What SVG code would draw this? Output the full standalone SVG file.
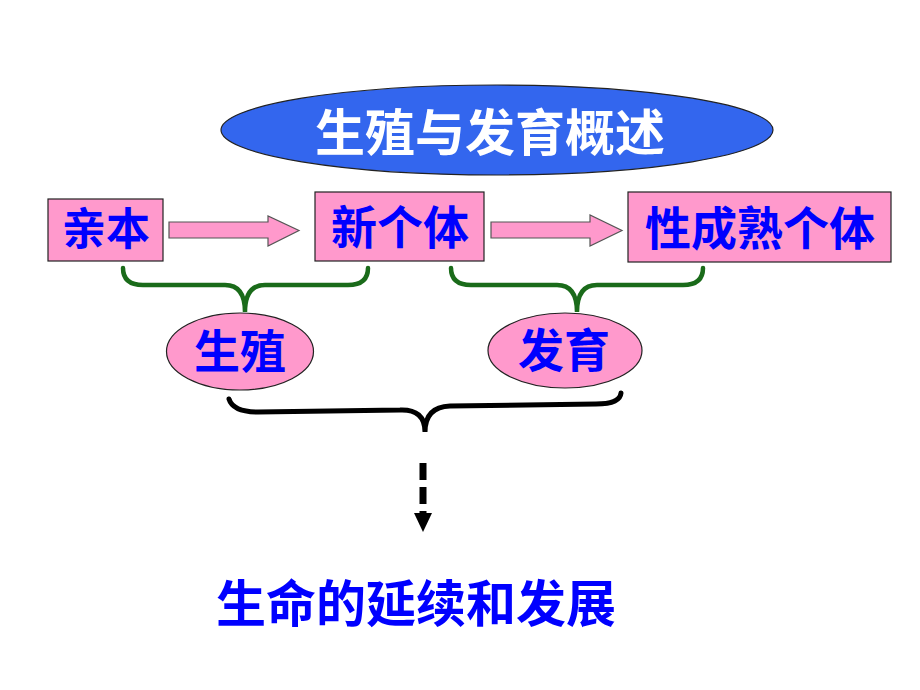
<svg xmlns="http://www.w3.org/2000/svg" width="920" height="690" viewBox="0 0 920 690">
<style>
.t{font-family:"Noto Sans CJK SC","Liberation Sans",sans-serif;font-weight:bold;text-anchor:middle;dominant-baseline:central}
.blue{fill:#0000ff}
.box{fill:#ff99cc;stroke:#222;stroke-width:1.2}
.arr{fill:#ff99cc;stroke:#555;stroke-width:1.2}
.gb{fill:none;stroke:#1a6b1a;stroke-width:4.5;stroke-linecap:round}
.bb{fill:none;stroke:#000;stroke-width:5;stroke-linecap:round}
</style>
<rect width="920" height="690" fill="#fff"/>
<g id="title">
<ellipse cx="497" cy="130" rx="276" ry="45" fill="#3366ee" stroke="#222" stroke-width="1.2"/>
<text class="t" x="490" y="129" font-size="50" fill="#fff">生殖与发育概述</text>
</g>
<g id="qinben">
<rect class="box" x="48" y="199" width="115" height="62"/>
<text class="t blue" x="106" y="226" font-size="44">亲本</text>
</g>
<g id="xingeti">
<rect class="box" x="315" y="192" width="169" height="69"/>
<text class="t blue" x="400" y="224" font-size="46">新个体</text>
</g>
<g id="xingchengshu">
<rect class="box" x="628" y="192" width="263" height="70"/>
<text class="t blue" x="760" y="225" font-size="46">性成熟个体</text>
</g>
<g id="shengzhi">
<ellipse cx="240" cy="351.5" rx="73.5" ry="38.5" fill="#ff99cc" stroke="#222" stroke-width="1.2"/>
<text class="t blue" x="240" y="348" font-size="46">生殖</text>
</g>
<g id="fayu">
<ellipse cx="565" cy="350.5" rx="77" ry="37.5" fill="#ff99cc" stroke="#222" stroke-width="1.2"/>
<text class="t blue" x="564" y="347" font-size="46">发育</text>
</g>
<g id="result">
<text class="t blue" x="416" y="600" font-size="50">生命的延续和发展</text>
</g>
<g id="connectors">
<polygon class="arr" points="169,222 268,222 268,216 299,230.5 268,246 268,238 169,238"/>
<polygon class="arr" points="491,222 590,222 590,215 622,230.5 590,246 590,238 491,238"/>
<path class="gb" d="M123,268 Q123,285 143,285 L225,285 Q245,285 245,312 Q245,285 265,285 L348,285 Q368,285 368,268"/>
<path class="gb" d="M451,268 Q451,285 471,285 L557,285 Q577,285 577,312 Q577,285 597,285 L683,285 Q703,285 703,268"/>
<path class="bb" d="M229,399 Q233,412 258,412 L400,410 Q425,409 425,432 Q425,407 450,406 L596,404 Q620,404 621,393"/>
<line x1="423" y1="463" x2="423" y2="513" stroke="#000" stroke-width="7" stroke-dasharray="17 7"/>
<polygon points="414,513 432,513 423,532" fill="#000"/>
</g>
</svg>
